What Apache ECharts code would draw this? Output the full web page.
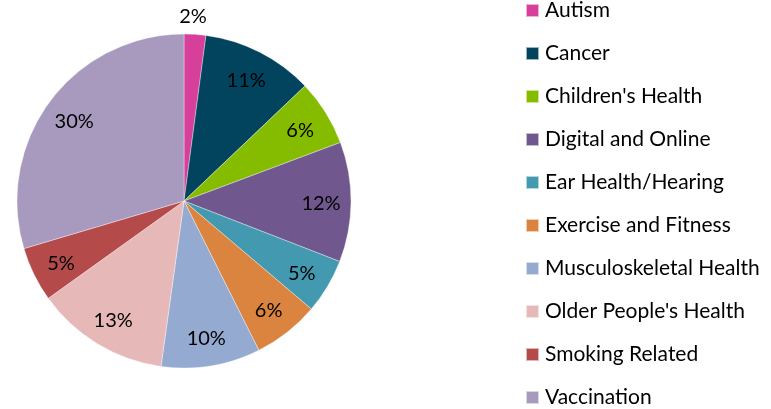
<!DOCTYPE html>
<html>
<head>
<meta charset="utf-8">
<script src="https://cdn.jsdelivr.net/npm/echarts@6/dist/echarts.min.js"></script>
<style>
  html, body { margin: 0; padding: 0; background: #fff; }
  #main { width: 771px; height: 409px; }
</style>
</head>
<body>
<div id="main"></div>
<script type="text/javascript">
// topics and their share (in percent)
var topics = ['Autism', 'Cancer', "Children's Health", 'Digital and Online', 'Ear Health/Hearing',
  'Exercise and Fitness', 'Musculoskeletal Health', "Older People's Health", 'Smoking Related', 'Vaccination'];
var shares = [2.1, 10.8, 6.4, 11.6, 5.3, 6.4, 9.6, 12.9, 5.3, 29.6];
var colors = ['#D6409A', '#02445E', '#86BC00', '#70588F', '#4399AF',
  '#DA843F', '#95AAD0', '#E6B8B7', '#B44B4A', '#A89ABE'];

var font = 'Lato, "Open Sans", sans-serif';
var myChart = echarts.init(document.getElementById('main'));

var pieData = topics.map(function (name, i) {
  return { name: name, value: shares[i], itemStyle: { color: colors[i] } };
});

// transparent ring, only used to put the labels at ~0.8 of the radius
var labelData = topics.map(function (name, i) {
  var d = { name: name, value: shares[i] };
  if (i === 0) {
    d.label = { offset: [0, -48] };
  }
  return d;
});

var option = {
  animation: false,
  legend: {
    orient: 'vertical',
    left: 525,
    top: 0,
    padding: 0,
    icon: 'rect',
    itemWidth: 13,
    itemHeight: 13,
    itemGap: 22,
    selectedMode: false,
    data: topics.map(function (name, i) {
      return { name: name, itemStyle: { color: colors[i] } };
    }),
    textStyle: { fontFamily: font, fontSize: 21, color: '#000', padding: [0, 0, 0, 1] }
  },
  series: [
    {
      type: 'pie',
      center: [184, 201],
      radius: [0, 167],
      startAngle: 90,
      clockwise: true,
      silent: true,
      label: { show: false },
      labelLine: { show: false },
      itemStyle: { borderColor: 'rgba(255,255,255,0.6)', borderWidth: 0.6 },
      data: pieData
    },
    {
      type: 'pie',
      center: [184, 201],
      radius: [101, 167],
      startAngle: 90,
      clockwise: true,
      silent: true,
      itemStyle: { color: 'rgba(0,0,0,0)' },
      labelLine: { show: false },
      label: {
        show: true,
        position: 'inside',
        offset: [0, 2],
        fontFamily: font,
        fontSize: 20,
        color: '#000',
        formatter: function (p) { return Math.round(p.value) + '%'; }
      },
      data: labelData
    }
  ]
};

myChart.setOption(option);
</script>
</body>
</html>
